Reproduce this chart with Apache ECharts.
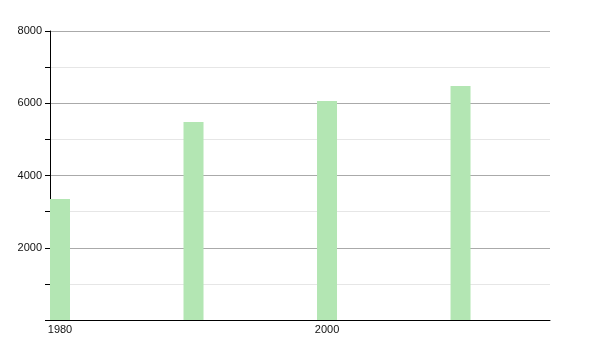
<!DOCTYPE html>
<html>
<head>
<meta charset="utf-8">
<script src="https://cdn.jsdelivr.net/npm/echarts@6/dist/echarts.min.js"></script>
<style>html,body{margin:0;padding:0;background:#fff}#c{width:600px;height:350px}</style>
</head>
<body>
<div id="c"></div>
<script>
var years = [1980, 1990, 2000, 2010];
var values = [3350, 5480, 6060, 6480];
var yTicks = [2000, 4000, 6000, 8000];
var xTicks = [1980, 2000];

var chart = echarts.init(document.getElementById('c'), null, {renderer: 'canvas'});
var data = years.map(function (y, i) { return [y, values[i]]; });
chart.setOption({
  animation: false,
  grid: {left: 50, right: 50, top: 31, bottom: 30},
  xAxis: {
    type: 'value', min: 1980, max: 2017.45, interval: 20,
    axisLine: {show: true, onZero: false, lineStyle: {color: '#000', width: 1}},
    axisTick: {show: false},
    splitLine: {show: false},
    axisLabel: {showMaxLabel: false, color: '#111', fontFamily: 'Liberation Sans', fontSize: 11, margin: 4,
      padding: [0, 0, 0, 20],
      formatter: function (v) { return xTicks.indexOf(v) >= 0 ? String(v) : ''; }}
  },
  yAxis: {
    type: 'value', min: 0, max: 8000, interval: 2000,
    axisLine: {show: true, lineStyle: {color: '#000', width: 1}},
    axisTick: {show: true, length: 5, lineStyle: {color: '#000'}},
    minorTick: {show: true, splitNumber: 2, length: 5, lineStyle: {color: '#000'}},
    splitLine: {show: true, lineStyle: {color: '#aaaaaa', width: 1}},
    minorSplitLine: {show: true, lineStyle: {color: '#e6e6e6', width: 1}},
    axisLabel: {color: '#111', fontFamily: 'Liberation Sans', fontSize: 11, margin: 8,
      formatter: function (v) { return yTicks.indexOf(v) >= 0 ? String(v) : ''; }}
  },
  series: [{
    type: 'custom',
    data: data,
    renderItem: function (params, api) {
      var p0 = api.coord([api.value(0), 0]);
      var p1 = api.coord([api.value(0), api.value(1)]);
      return {
        type: 'rect',
        shape: {x: p0[0], y: p1[1], width: 20, height: p0[1] - p1[1]},
        style: {fill: '#b3e6b3'}
      };
    }
  }]
});
</script>
</body>
</html>
